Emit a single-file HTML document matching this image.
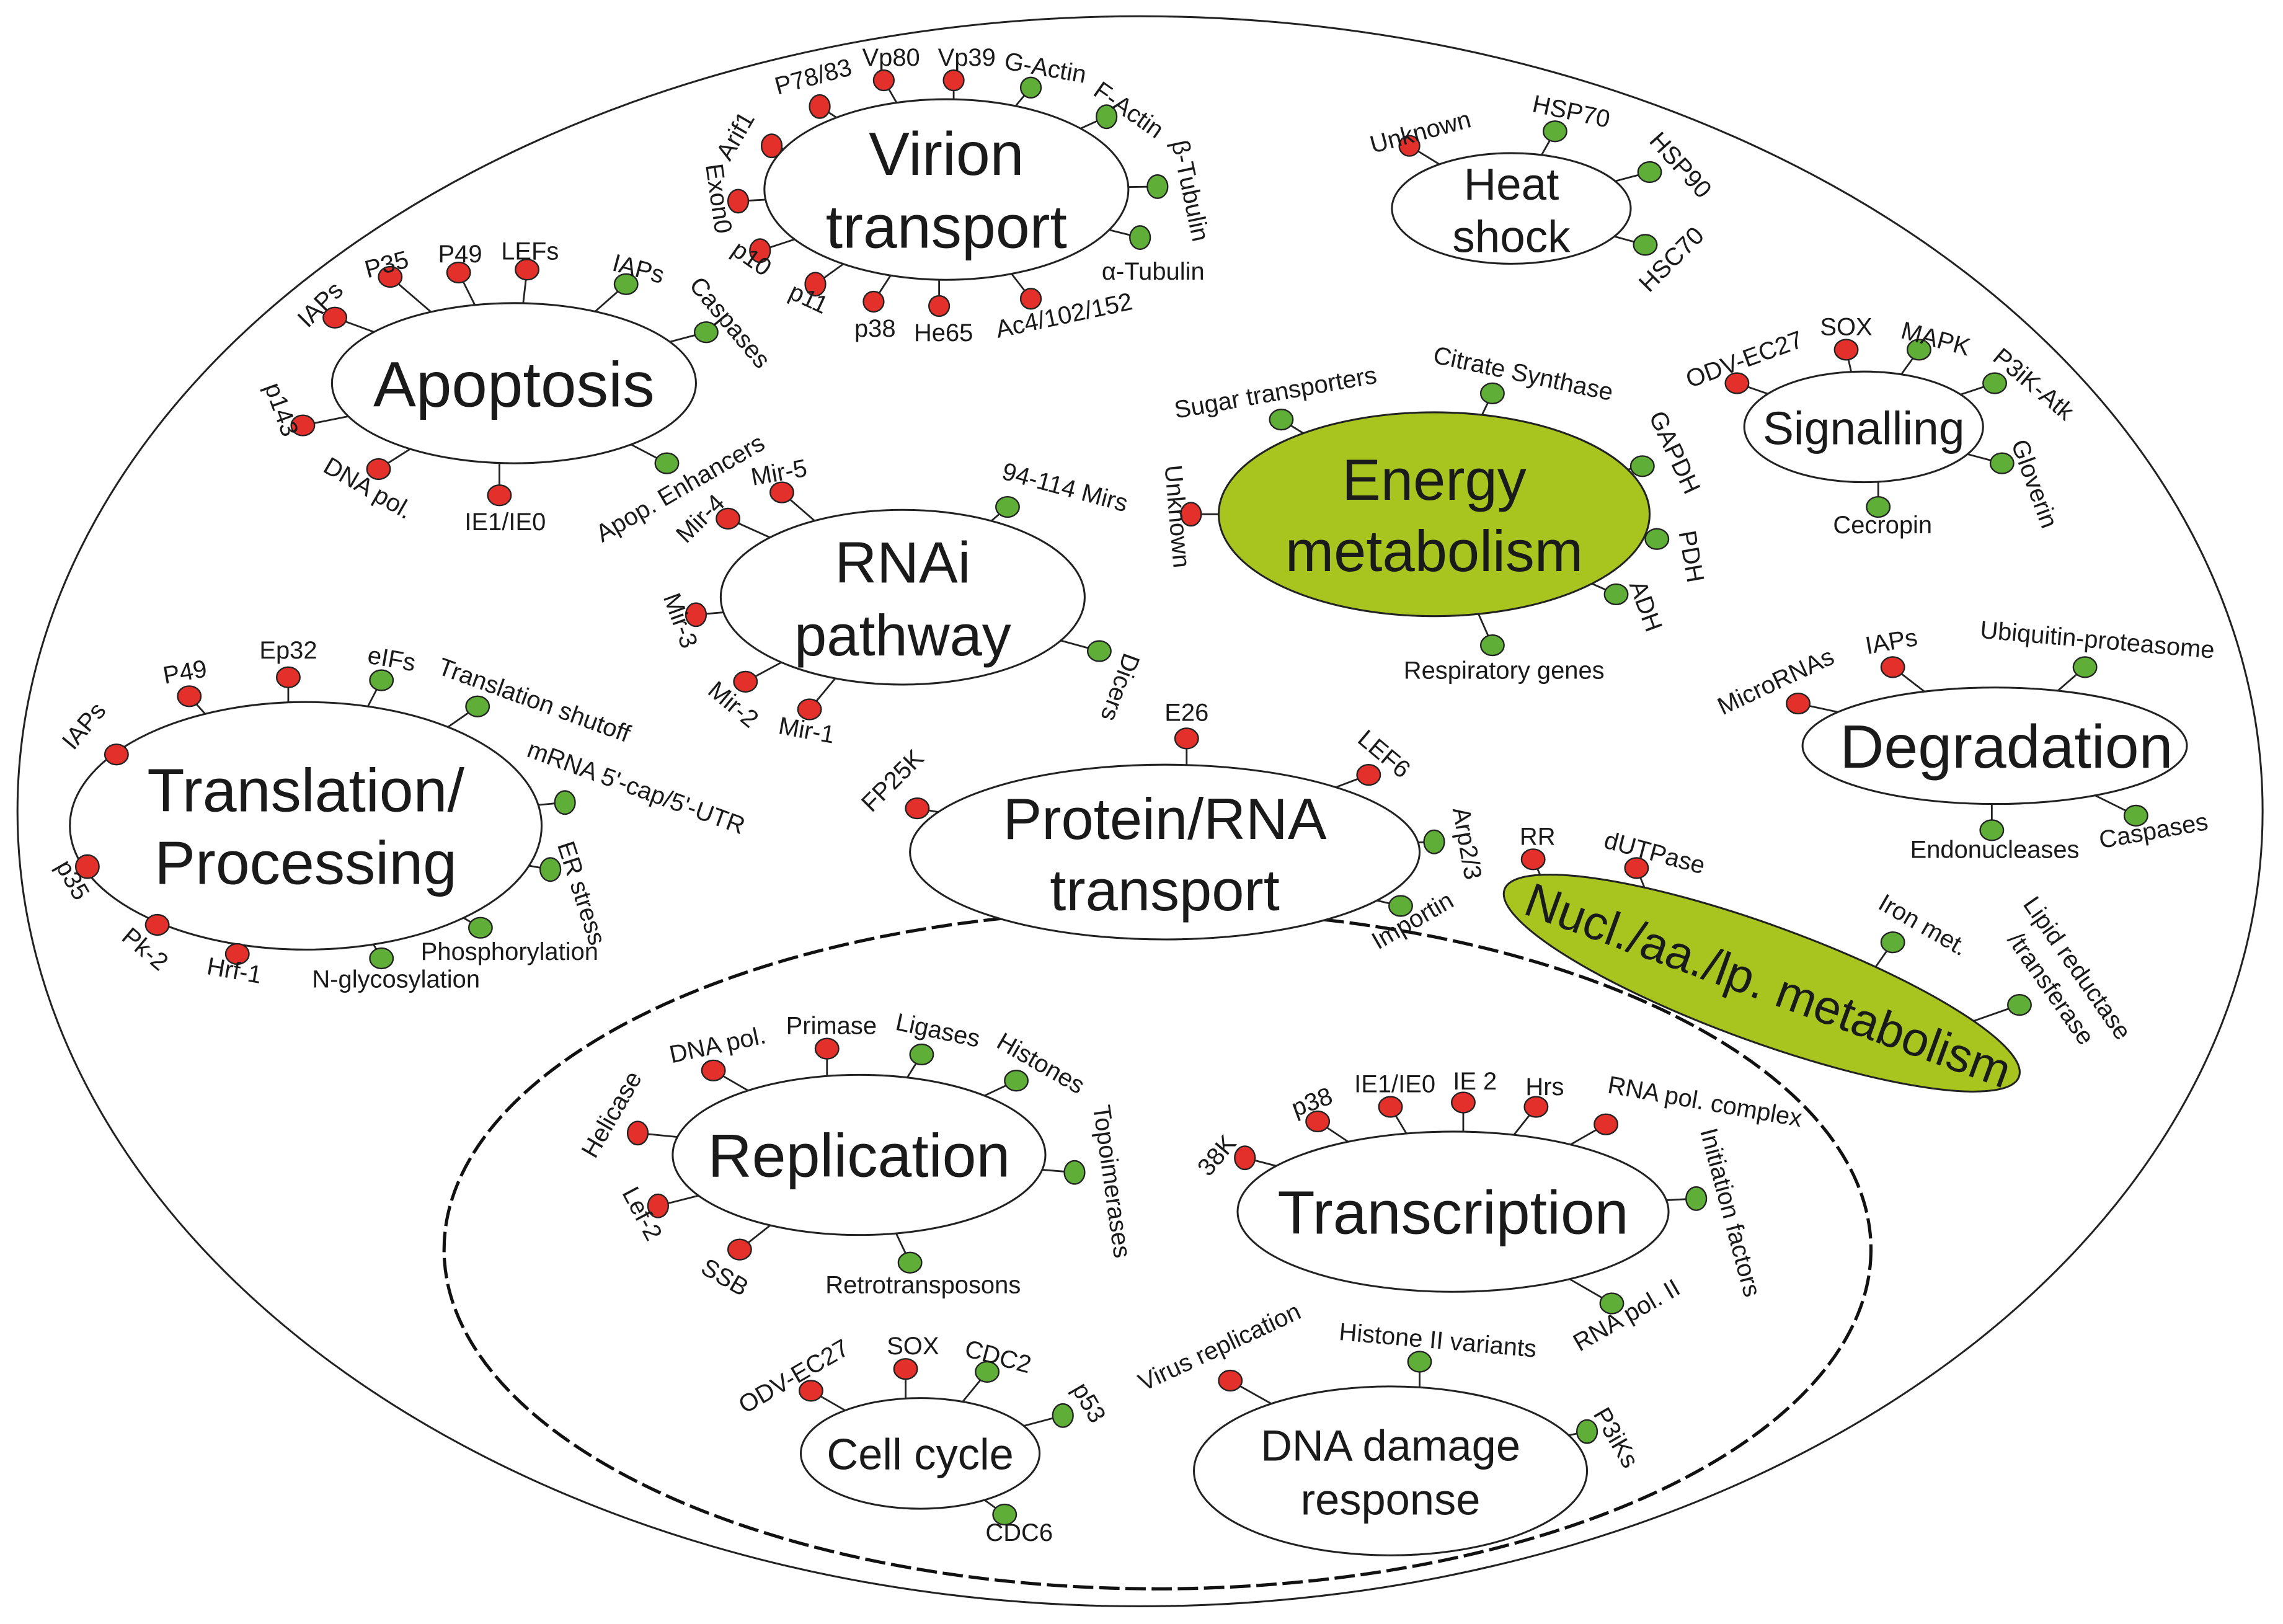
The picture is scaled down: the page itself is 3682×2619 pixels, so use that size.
<!DOCTYPE html>
<html><head><meta charset="utf-8"><style>
html,body{margin:0;padding:0;background:#fff}
svg{display:block}
text{font-family:"Liberation Sans",Arial,sans-serif;fill:#1a1a1a}
.l{font-size:17px;text-anchor:middle}
.n{text-anchor:middle}
.s{stroke:#222;stroke-width:1.2}
.r{fill:#e3302b;stroke:#222;stroke-width:1}
.g{fill:#5fae38;stroke:#222;stroke-width:1}
.nd{fill:#fff;stroke:#222;stroke-width:1.3}
.gr{fill:#a8c41e;stroke:#222;stroke-width:1.3}
</style></head><body>
<svg width="3682" height="2619" viewBox="0 0 1568 1115" xmlns="http://www.w3.org/2000/svg">
<ellipse cx="783" cy="557" rx="771" ry="546" fill="none" stroke="#222" stroke-width="1.3"/>
<ellipse cx="795" cy="858" rx="490" ry="233" fill="none" stroke="#111" stroke-width="2.2" stroke-dasharray="14,4"/>

<!-- stems -->
<g class="s">
<!-- virion -->
<line x1="530" y1="100" x2="650" y2="130"/><line x1="563" y1="73" x2="650" y2="130"/><line x1="607" y1="55" x2="650" y2="130"/><line x1="655" y1="55" x2="655" y2="130"/><line x1="708" y1="60" x2="650" y2="130"/><line x1="760" y1="80" x2="650" y2="130"/><line x1="795" y1="128" x2="650" y2="130"/><line x1="783" y1="163" x2="650" y2="130"/><line x1="708" y1="205" x2="650" y2="130"/><line x1="645" y1="210" x2="645" y2="130"/><line x1="600" y1="207" x2="650" y2="130"/><line x1="560" y1="195" x2="650" y2="130"/><line x1="522" y1="172" x2="650" y2="130"/><line x1="507" y1="138" x2="650" y2="130"/>
<!-- heat -->
<line x1="968" y1="100" x2="1038" y2="143"/><line x1="1068" y1="90" x2="1038" y2="143"/><line x1="1133" y1="118" x2="1038" y2="143"/><line x1="1130" y1="168" x2="1038" y2="143"/>
<!-- apoptosis -->
<line x1="230" y1="218" x2="353" y2="263"/><line x1="268" y1="190" x2="353" y2="263"/><line x1="315" y1="187" x2="353" y2="263"/><line x1="362" y1="185" x2="353" y2="263"/><line x1="430" y1="195" x2="353" y2="263"/><line x1="485" y1="228" x2="353" y2="263"/><line x1="458" y1="318" x2="353" y2="263"/><line x1="343" y1="340" x2="343" y2="263"/><line x1="260" y1="322" x2="353" y2="263"/><line x1="208" y1="292" x2="353" y2="263"/>
<!-- signalling -->
<line x1="1193" y1="263" x2="1280" y2="293"/><line x1="1268" y1="240" x2="1280" y2="293"/><line x1="1318" y1="240" x2="1280" y2="293"/><line x1="1370" y1="263" x2="1280" y2="293"/><line x1="1375" y1="318" x2="1280" y2="293"/><line x1="1290" y1="348" x2="1290" y2="293"/>
<!-- energy -->
<line x1="880" y1="288" x2="985" y2="353"/><line x1="1025" y1="270" x2="985" y2="353"/><line x1="1128" y1="320" x2="985" y2="353"/><line x1="1138" y1="370" x2="985" y2="353"/><line x1="1110" y1="408" x2="985" y2="353"/><line x1="1025" y1="443" x2="985" y2="353"/><line x1="818" y1="353" x2="985" y2="353"/>
<!-- rnai -->
<line x1="537" y1="338" x2="620" y2="410"/><line x1="500" y1="356" x2="620" y2="410"/><line x1="478" y1="422" x2="620" y2="410"/><line x1="512" y1="468" x2="620" y2="410"/><line x1="556" y1="487" x2="620" y2="410"/><line x1="692" y1="348" x2="620" y2="410"/><line x1="755" y1="447" x2="620" y2="410"/>
<!-- translation -->
<line x1="80" y1="518" x2="210" y2="567"/><line x1="130" y1="478" x2="210" y2="567"/><line x1="198" y1="465" x2="198" y2="567"/><line x1="262" y1="467" x2="210" y2="567"/><line x1="328" y1="485" x2="210" y2="567"/><line x1="388" y1="551" x2="210" y2="567"/><line x1="378" y1="597" x2="210" y2="567"/><line x1="330" y1="637" x2="210" y2="567"/><line x1="262" y1="658" x2="210" y2="567"/><line x1="163" y1="655" x2="210" y2="567"/><line x1="108" y1="635" x2="210" y2="567"/><line x1="60" y1="595" x2="210" y2="567"/>
<!-- degradation -->
<line x1="1235" y1="483" x2="1370" y2="512"/><line x1="1300" y1="458" x2="1370" y2="512"/><line x1="1432" y1="458" x2="1370" y2="512"/><line x1="1368" y1="570" x2="1368" y2="512"/><line x1="1467" y1="560" x2="1370" y2="512"/>
<!-- protein -->
<line x1="630" y1="555" x2="800" y2="585"/><line x1="815" y1="507" x2="815" y2="585"/><line x1="940" y1="532" x2="800" y2="585"/><line x1="985" y1="578" x2="800" y2="585"/><line x1="962" y1="622" x2="800" y2="585"/>
<!-- nucl -->
<line x1="1053" y1="590" x2="1080" y2="650"/><line x1="1124" y1="596" x2="1150" y2="660"/><line x1="1300" y1="647" x2="1270" y2="690"/><line x1="1387" y1="690" x2="1330" y2="710"/>
<!-- replication -->
<line x1="438" y1="778" x2="590" y2="793"/><line x1="490" y1="735" x2="590" y2="793"/><line x1="568" y1="720" x2="568" y2="793"/><line x1="633" y1="724" x2="590" y2="793"/><line x1="698" y1="742" x2="590" y2="793"/><line x1="738" y1="805" x2="590" y2="793"/><line x1="625" y1="867" x2="590" y2="793"/><line x1="508" y1="858" x2="590" y2="793"/><line x1="452" y1="828" x2="590" y2="793"/>
<!-- transcription -->
<line x1="855" y1="795" x2="998" y2="832"/><line x1="905" y1="770" x2="998" y2="832"/><line x1="955" y1="760" x2="998" y2="832"/><line x1="1005" y1="757" x2="1005" y2="832"/><line x1="1055" y1="760" x2="998" y2="832"/><line x1="1103" y1="772" x2="998" y2="832"/><line x1="1165" y1="823" x2="998" y2="832"/><line x1="1107" y1="895" x2="998" y2="832"/>
<!-- cell cycle -->
<line x1="557" y1="955" x2="632" y2="998"/><line x1="622" y1="940" x2="622" y2="998"/><line x1="678" y1="942" x2="632" y2="998"/><line x1="730" y1="972" x2="632" y2="998"/><line x1="690" y1="1040" x2="632" y2="998"/>
<!-- dna damage -->
<line x1="845" y1="948" x2="955" y2="1010"/><line x1="975" y1="935" x2="975" y2="1010"/><line x1="1090" y1="983" x2="955" y2="1010"/>
</g>

<!-- nodes -->
<ellipse class="nd" cx="650" cy="130" rx="125" ry="62"/>
<ellipse class="nd" cx="1038" cy="143" rx="82" ry="38"/>
<ellipse class="nd" cx="353" cy="263" rx="125" ry="55"/>
<ellipse class="nd" cx="1280" cy="293" rx="82" ry="38"/>
<ellipse class="gr" cx="985" cy="353" rx="148" ry="70"/>
<ellipse class="nd" cx="620" cy="410" rx="125" ry="60"/>
<ellipse class="nd" cx="210" cy="567" rx="162" ry="85"/>
<ellipse class="nd" cx="1370" cy="512" rx="132" ry="40"/>
<ellipse class="nd" cx="800" cy="585" rx="175" ry="60"/>
<ellipse class="gr" cx="1210" cy="675" rx="188" ry="40" transform="rotate(20 1210 675)"/>
<ellipse class="nd" cx="590" cy="793" rx="128" ry="55"/>
<ellipse class="nd" cx="998" cy="832" rx="148" ry="55"/>
<ellipse class="nd" cx="632" cy="998" rx="82" ry="38"/>
<ellipse class="nd" cx="955" cy="1010" rx="135" ry="58"/>

<!-- node labels -->
<text class="n" x="650" y="120" font-size="42">Virion</text>
<text class="n" x="650" y="170" font-size="42">transport</text>
<text class="n" x="1038" y="137" font-size="31">Heat</text>
<text class="n" x="1038" y="173" font-size="31">shock</text>
<text class="n" x="353" y="279" font-size="44">Apoptosis</text>
<text class="n" x="1280" y="305" font-size="32">Signalling</text>
<text class="n" x="985" y="343" font-size="40">Energy</text>
<text class="n" x="985" y="392" font-size="40">metabolism</text>
<text class="n" x="620" y="400" font-size="40">RNAi</text>
<text class="n" x="620" y="450" font-size="40">pathway</text>
<text class="n" x="210" y="557" font-size="42">Translation/</text>
<text class="n" x="210" y="607" font-size="42">Processing</text>
<text class="n" x="1378" y="527" font-size="42">Degradation</text>
<text class="n" x="800" y="576" font-size="40">Protein/RNA</text>
<text class="n" x="800" y="625" font-size="40">transport</text>
<text class="n" x="1215" y="688" font-size="33" transform="rotate(20 1215 675)">Nucl./aa./lp. metabolism</text>
<text class="n" x="590" y="808" font-size="42">Replication</text>
<text class="n" x="998" y="847" font-size="42">Transcription</text>
<text class="n" x="632" y="1009" font-size="30">Cell cycle</text>
<text class="n" x="955" y="1003" font-size="30">DNA damage</text>
<text class="n" x="955" y="1040" font-size="30">response</text>

<!-- pins -->
<g>
<ellipse class="r" cx="530" cy="100" rx="7" ry="8"/><ellipse class="r" cx="563" cy="73" rx="7" ry="8"/><ellipse class="r" cx="607" cy="55" rx="7" ry="7"/><ellipse class="r" cx="655" cy="55" rx="7" ry="7"/><ellipse class="g" cx="708" cy="60" rx="7" ry="7"/><ellipse class="g" cx="760" cy="80" rx="7" ry="8"/><ellipse class="g" cx="795" cy="128" rx="7" ry="8"/><ellipse class="g" cx="783" cy="163" rx="7" ry="8"/><ellipse class="r" cx="708" cy="205" rx="7" ry="7"/><ellipse class="r" cx="645" cy="210" rx="7" ry="7"/><ellipse class="r" cx="600" cy="207" rx="7" ry="7"/><ellipse class="r" cx="560" cy="195" rx="7" ry="8"/><ellipse class="r" cx="522" cy="172" rx="7" ry="8"/><ellipse class="r" cx="507" cy="138" rx="7" ry="8"/>
<ellipse class="r" cx="968" cy="100" rx="7" ry="7"/><ellipse class="g" cx="1068" cy="90" rx="8" ry="7"/><ellipse class="g" cx="1133" cy="118" rx="8" ry="7"/><ellipse class="g" cx="1130" cy="168" rx="8" ry="7"/>
<ellipse class="r" cx="230" cy="218" rx="8" ry="7"/><ellipse class="r" cx="268" cy="190" rx="8" ry="7"/><ellipse class="r" cx="315" cy="187" rx="8" ry="7"/><ellipse class="r" cx="362" cy="185" rx="8" ry="7"/><ellipse class="g" cx="430" cy="195" rx="8" ry="7"/><ellipse class="g" cx="485" cy="228" rx="8" ry="7"/><ellipse class="g" cx="458" cy="318" rx="8" ry="7"/><ellipse class="r" cx="343" cy="340" rx="8" ry="7"/><ellipse class="r" cx="260" cy="322" rx="8" ry="7"/><ellipse class="r" cx="208" cy="292" rx="8" ry="7"/>
<ellipse class="r" cx="1193" cy="263" rx="8" ry="7"/><ellipse class="r" cx="1268" cy="240" rx="8" ry="7"/><ellipse class="g" cx="1318" cy="240" rx="8" ry="7"/><ellipse class="g" cx="1370" cy="263" rx="8" ry="7"/><ellipse class="g" cx="1375" cy="318" rx="8" ry="7"/><ellipse class="g" cx="1290" cy="348" rx="8" ry="7"/>
<ellipse class="g" cx="880" cy="288" rx="8" ry="7"/><ellipse class="g" cx="1025" cy="270" rx="8" ry="7"/><ellipse class="g" cx="1128" cy="320" rx="8" ry="7"/><ellipse class="g" cx="1138" cy="370" rx="8" ry="7"/><ellipse class="g" cx="1110" cy="408" rx="8" ry="7"/><ellipse class="g" cx="1025" cy="443" rx="8" ry="7"/><ellipse class="r" cx="818" cy="353" rx="7" ry="8"/>
<ellipse class="r" cx="537" cy="338" rx="8" ry="7"/><ellipse class="r" cx="500" cy="356" rx="8" ry="7"/><ellipse class="r" cx="478" cy="422" rx="7" ry="8"/><ellipse class="r" cx="512" cy="468" rx="8" ry="7"/><ellipse class="r" cx="556" cy="487" rx="8" ry="7"/><ellipse class="g" cx="692" cy="348" rx="8" ry="7"/><ellipse class="g" cx="755" cy="447" rx="8" ry="7"/>
<ellipse class="r" cx="80" cy="518" rx="8" ry="7"/><ellipse class="r" cx="130" cy="478" rx="8" ry="7"/><ellipse class="r" cx="198" cy="465" rx="8" ry="7"/><ellipse class="g" cx="262" cy="467" rx="8" ry="7"/><ellipse class="g" cx="328" cy="485" rx="8" ry="7"/><ellipse class="g" cx="388" cy="551" rx="7" ry="8"/><ellipse class="g" cx="378" cy="597" rx="7" ry="8"/><ellipse class="g" cx="330" cy="637" rx="8" ry="7"/><ellipse class="g" cx="262" cy="658" rx="8" ry="7"/><ellipse class="r" cx="163" cy="655" rx="8" ry="7"/><ellipse class="r" cx="108" cy="635" rx="8" ry="7"/><ellipse class="r" cx="60" cy="595" rx="8" ry="8"/>
<ellipse class="r" cx="1235" cy="483" rx="8" ry="7"/><ellipse class="r" cx="1300" cy="458" rx="8" ry="7"/><ellipse class="g" cx="1432" cy="458" rx="8" ry="7"/><ellipse class="g" cx="1368" cy="570" rx="8" ry="7"/><ellipse class="g" cx="1467" cy="560" rx="8" ry="7"/>
<ellipse class="r" cx="630" cy="555" rx="8" ry="7"/><ellipse class="r" cx="815" cy="507" rx="8" ry="7"/><ellipse class="r" cx="940" cy="532" rx="8" ry="7"/><ellipse class="g" cx="985" cy="578" rx="7" ry="8"/><ellipse class="g" cx="962" cy="622" rx="8" ry="7"/>
<ellipse class="r" cx="1053" cy="590" rx="8" ry="7"/><ellipse class="r" cx="1124" cy="596" rx="8" ry="7"/><ellipse class="g" cx="1300" cy="647" rx="8" ry="7"/><ellipse class="g" cx="1387" cy="690" rx="8" ry="7"/>
<ellipse class="r" cx="438" cy="778" rx="7" ry="8"/><ellipse class="r" cx="490" cy="735" rx="8" ry="7"/><ellipse class="r" cx="568" cy="720" rx="8" ry="7"/><ellipse class="g" cx="633" cy="724" rx="8" ry="7"/><ellipse class="g" cx="698" cy="742" rx="8" ry="7"/><ellipse class="g" cx="738" cy="805" rx="7" ry="8"/><ellipse class="g" cx="625" cy="867" rx="8" ry="7"/><ellipse class="r" cx="508" cy="858" rx="8" ry="7"/><ellipse class="r" cx="452" cy="828" rx="7" ry="8"/>
<ellipse class="r" cx="855" cy="795" rx="7" ry="8"/><ellipse class="r" cx="905" cy="770" rx="8" ry="7"/><ellipse class="r" cx="955" cy="760" rx="8" ry="7"/><ellipse class="r" cx="1005" cy="757" rx="8" ry="7"/><ellipse class="r" cx="1055" cy="760" rx="8" ry="7"/><ellipse class="r" cx="1103" cy="772" rx="8" ry="7"/><ellipse class="g" cx="1165" cy="823" rx="7" ry="8"/><ellipse class="g" cx="1107" cy="895" rx="8" ry="7"/>
<ellipse class="r" cx="557" cy="955" rx="8" ry="7"/><ellipse class="r" cx="622" cy="940" rx="8" ry="7"/><ellipse class="g" cx="678" cy="942" rx="8" ry="7"/><ellipse class="g" cx="730" cy="972" rx="7" ry="8"/><ellipse class="g" cx="690" cy="1040" rx="8" ry="7"/>
<ellipse class="r" cx="845" cy="948" rx="8" ry="7"/><ellipse class="g" cx="975" cy="935" rx="8" ry="7"/><ellipse class="g" cx="1090" cy="983" rx="7" ry="8"/>
</g>

<!-- pin labels -->
<g class="l">
<text transform="translate(510,96) rotate(-60)">Arif1</text>
<text transform="translate(560,58) rotate(-15)">P78/83</text>
<text transform="translate(612,45)">Vp80</text>
<text transform="translate(664,45)">Vp39</text>
<text transform="translate(717,52) rotate(10)">G-Actin</text>
<text transform="translate(772,80) rotate(35)">F-Actin</text>
<text transform="translate(812,132) rotate(78)">β-Tubulin</text>
<text transform="translate(792,192)">α-Tubulin</text>
<text transform="translate(732,222) rotate(-12)">Ac4/102/152</text>
<text transform="translate(648,234)">He65</text>
<text transform="translate(601,231)">p38</text>
<text transform="translate(553,210) rotate(25)">p11</text>
<text transform="translate(513,182) rotate(35)">p10</text>
<text transform="translate(488,137) rotate(82)">Exon0</text>

<text transform="translate(977,96) rotate(-15)">Unknown</text>
<text transform="translate(1078,82) rotate(12)">HSP70</text>
<text transform="translate(1150,117) rotate(48)">HSP90</text>
<text transform="translate(1152,182) rotate(-45)">HSC70</text>

<text transform="translate(224,213) rotate(-45)">IAPs</text>
<text transform="translate(267,187) rotate(-15)">P35</text>
<text transform="translate(316,180)">P49</text>
<text transform="translate(364,178)">LEFs</text>
<text transform="translate(437,190) rotate(15)">IAPs</text>
<text transform="translate(497,225) rotate(50)">Caspases</text>
<text transform="translate(470,340) rotate(-30)">Apop. Enhancers</text>
<text transform="translate(347,364)">IE1/IE0</text>
<text transform="translate(250,340) rotate(30)">DNA pol.</text>
<text transform="translate(188,283) rotate(70)">p143</text>

<text transform="translate(1200,252) rotate(-20)">ODV-EC27</text>
<text transform="translate(1268,230)">SOX</text>
<text transform="translate(1328,238) rotate(15)">MAPK</text>
<text transform="translate(1393,268) rotate(40)">P3iK-Atk</text>
<text transform="translate(1392,334) rotate(70)">Gloverin</text>
<text transform="translate(1293,366)">Cecropin</text>

<text transform="translate(877,275) rotate(-10)">Sugar transporters</text>
<text transform="translate(1045,262) rotate(12)">Citrate Synthase</text>
<text transform="translate(1145,313) rotate(65)">GAPDH</text>
<text transform="translate(1156,383) rotate(80)">PDH</text>
<text transform="translate(1125,418) rotate(70)">ADH</text>
<text transform="translate(1033,466)">Respiratory genes</text>
<text transform="translate(803,355) rotate(85)">Unknown</text>

<text transform="translate(536,330) rotate(-10)">Mir-5</text>
<text transform="translate(485,360) rotate(-45)">Mir-4</text>
<text transform="translate(462,428) rotate(70)">Mir-3</text>
<text transform="translate(500,488) rotate(40)">Mir-2</text>
<text transform="translate(553,507) rotate(10)">Mir-1</text>
<text transform="translate(730,340) rotate(15)">94-114 Mirs</text>
<text transform="translate(764,470) rotate(110)">Dicers</text>

<text transform="translate(62,502) rotate(-50)">IAPs</text>
<text transform="translate(128,467) rotate(-10)">P49</text>
<text transform="translate(198,452)">Ep32</text>
<text transform="translate(268,458) rotate(10)">eIFs</text>
<text transform="translate(365,486) rotate(20)">Translation shutoff</text>
<text transform="translate(435,546) rotate(20)">mRNA 5'-cap/5'-UTR</text>
<text transform="translate(394,615) rotate(72)">ER stress</text>
<text transform="translate(350,659)">Phosphorylation</text>
<text transform="translate(272,678)">N-glycosylation</text>
<text transform="translate(160,672) rotate(10)">Hrf-1</text>
<text transform="translate(96,656) rotate(40)">Pk-2</text>
<text transform="translate(45,607) rotate(60)">p35</text>

<text transform="translate(1222,473) rotate(-25)">MicroRNAs</text>
<text transform="translate(1300,446) rotate(-10)">IAPs</text>
<text transform="translate(1440,445) rotate(5)">Ubiquitin-proteasome</text>
<text transform="translate(1370,589)">Endonucleases</text>
<text transform="translate(1480,576) rotate(-10)">Caspases</text>

<text transform="translate(617,540) rotate(-45)">FP25K</text>
<text transform="translate(815,495)">E26</text>
<text transform="translate(947,522) rotate(40)">LEF6</text>
<text transform="translate(1002,580) rotate(80)">Arp2/3</text>
<text transform="translate(973,637) rotate(-30)">Importin</text>

<text transform="translate(1056,580)">RR</text>
<text transform="translate(1135,591) rotate(15)">dUTPase</text>
<text transform="translate(1318,640) rotate(30)">Iron met.</text>
<text transform="translate(1422,668) rotate(55)">Lipid reductase</text>
<text transform="translate(1404,682) rotate(55)">/transferase</text>

<text transform="translate(425,768) rotate(-60)">Helicase</text>
<text transform="translate(494,723) rotate(-12)">DNA pol.</text>
<text transform="translate(571,710)">Primase</text>
<text transform="translate(643,713) rotate(12)">Ligases</text>
<text transform="translate(712,735) rotate(30)">Histones</text>
<text transform="translate(758,812) rotate(82)">Topoimerases</text>
<text transform="translate(634,888)">Retrotransposons</text>
<text transform="translate(495,882) rotate(30)">SSB</text>
<text transform="translate(436,836) rotate(62)">Lef-2</text>

<text transform="translate(840,797) rotate(-50)">38K</text>
<text transform="translate(903,762) rotate(-20)">p38</text>
<text transform="translate(958,750)">IE1/IE0</text>
<text transform="translate(1013,748)">IE 2</text>
<text transform="translate(1061,752)">Hrs</text>
<text transform="translate(1170,762) rotate(10)">RNA pol. complex</text>
<text transform="translate(1183,834) rotate(75)">Initiation factors</text>
<text transform="translate(1120,908) rotate(-30)">RNA pol. II</text>

<text transform="translate(548,950) rotate(-30)">ODV-EC27</text>
<text transform="translate(627,930)">SOX</text>
<text transform="translate(684,937) rotate(15)">CDC2</text>
<text transform="translate(743,966) rotate(60)">p53</text>
<text transform="translate(700,1058)">CDC6</text>

<text transform="translate(840,930) rotate(-25)">Virus replication</text>
<text transform="translate(987,926) rotate(5)">Histone II variants</text>
<text transform="translate(1105,990) rotate(60)">P3iKs</text>
</g>
</svg>
</body></html>
